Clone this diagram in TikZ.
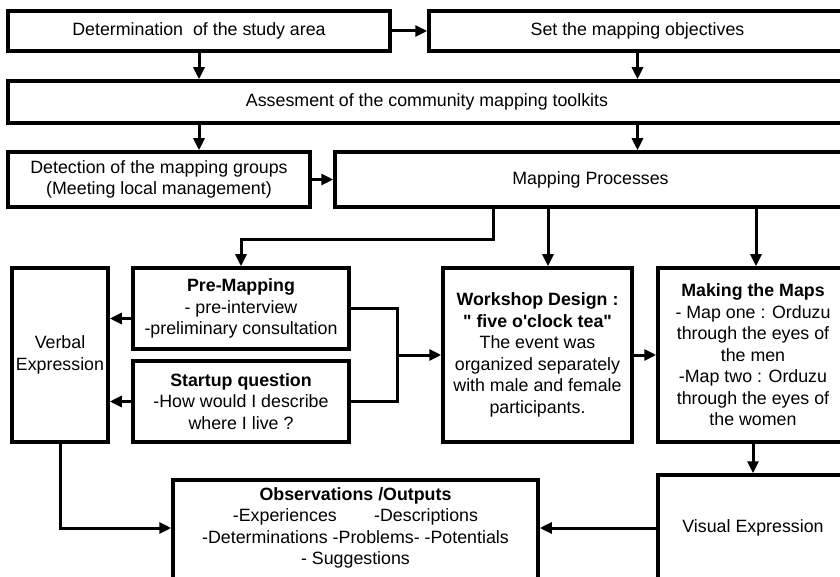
\documentclass[tikz,border=0pt]{standalone}
\usepackage{fontspec}
\setmainfont{Liberation Sans}
\usetikzlibrary{arrows.meta,calc}
\begin{document}
\begin{tikzpicture}[x=1pt,y=-1pt,
  box/.style={draw,line width=3.5pt,inner sep=2pt,align=center,font=\fontsize{17.8}{21.5}\selectfont},
  txt/.style={inner sep=0pt,align=center,font=\fontsize{17.8}{21.5}\selectfont},
  arr/.style={line width=3pt,-{Triangle[length=12pt,width=11pt]}},
  ln/.style={line width=3pt}]
\fill[white] (0,0) rectangle (840,577);
\useasboundingbox (0,0) rectangle (840,577);
% top rows
\node[box,minimum width=382pt,minimum height=40pt] (det) at (199,31) {Determination\ \ of the study area};
\node[box,minimum width=417pt,minimum height=40pt] (obj) at (637.5,31) {Set the mapping objectives};
\node[box,minimum width=838pt,minimum height=42pt] (ass) at (427,102) {Assesment of the community mapping toolkits};
\node[box,minimum width=302pt,minimum height=55pt] (grp) at (159,179.5) {Detection of the mapping groups\\(Meeting local management)};
\node[box,minimum width=511pt,minimum height=55pt] (mp) at (590.5,179.5) {Mapping Processes};
% middle row
\node[box,minimum width=96pt,minimum height=174pt,inner sep=0pt] (verb) at (60,355) {Verbal\\Expression};
\node[box,minimum width=216pt,minimum height=81pt] (pre) at (241,308.5) {\textbf{Pre-Mapping}\\- pre-interview\\-preliminary consultation};
\node[box,minimum width=216pt,minimum height=81pt] (start) at (241,401.5) {\textbf{Startup question}\\-How would I describe\\where I live ?};
\node[box,minimum width=189pt,minimum height=174pt] (work) at (537.5,355) {\textbf{Workshop Design :}\\\textbf{\textquotedbl{} five o\textquotesingle clock tea\textquotedbl}\\The event was\\organized separately\\with male and female\\participants.};
\node[box,minimum width=190pt,minimum height=174pt] (make) at (753,355) {\textbf{Making the Maps}\\- Map one : Orduzu\\through the eyes of\\the men\\-Map two : Orduzu\\through the eyes of\\the women};
% bottom row
\node[draw,line width=3.5pt,minimum width=365pt,minimum height=130pt,anchor=north] (obs) at (355.5,478) {};
\node[txt,anchor=north] (obst) at (355.5,487) {\textbf{Observations /Outputs}\\-Experiences\hspace{2.1em}-Descriptions\\-Determinations -Problems- -Potentials\\- Suggestions};
\node[box,minimum width=190pt,minimum height=106pt] (vis) at (753,528) {Visual Expression};
% connectors
\coordinate (k1) at (493,0);
\coordinate (k2) at (548,0);
\coordinate (k3) at (756,0);
\coordinate (j) at (397,355);
\draw[arr] (det) -- (obj);
\draw[arr] (det.south) -- (det.south |- ass.north);
\draw[arr] (obj.south) -- (obj.south |- ass.north);
\draw[arr] (ass.south -| det.south) -- (grp.north -| det.south);
\draw[arr] (ass.south -| obj.south) -- (mp.north -| obj.south);
\draw[arr] (grp) -- (mp);
\draw[arr] (mp.south -| k1) -- ++(0,31) -| (pre.north);
\draw[arr] (mp.south -| k2) -- (work.north -| k2);
\draw[arr] (mp.south -| k3) -- (make.north -| k3);
\draw[arr] ([yshift=-10pt]pre.west) -- ([yshift=-10pt]pre.west -| verb.east);
\draw[arr] (start.west) -- (start.west -| verb.east);
\draw[ln] (pre.east) -| (j) |- (start.east);
\draw[arr] (j) -- (j -| work.west);
\draw[arr] (work) -- (make);
\draw[arr] (make.south -| vis.north) -- (vis.north);
\draw[arr] (vis.west) -- (vis.west -| obs.east);
\draw[arr] (verb.south) |- (vis.west -| obs.west);
\end{tikzpicture}
\end{document}
